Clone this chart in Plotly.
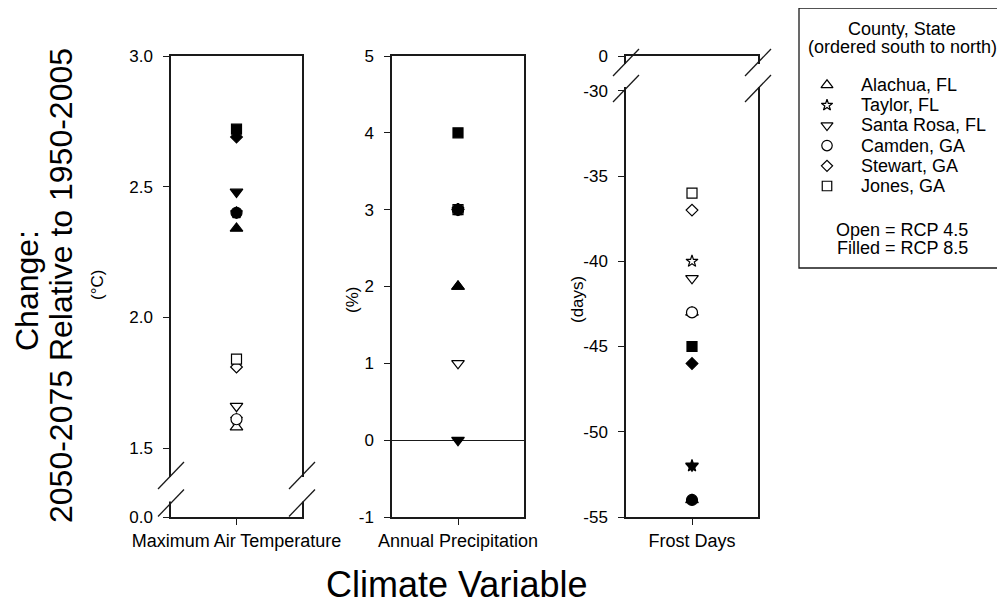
import plotly.graph_objects as go

# ---------------- data ----------------
categories = ["Maximum Air Temperature", "Annual Precipitation", "Frost Days"]
counties = ["Alachua, FL", "Taylor, FL", "Santa Rosa, FL", "Camden, GA", "Stewart, GA", "Jones, GA"]
county_symbols = ["triangle-up", "star", "triangle-down", "circle", "diamond", "square"]

temp_rcp45 = [1.58, 1.61, 1.66, 1.61, 1.81, 1.84]
temp_rcp85 = [2.34, 2.40, 2.48, 2.40, 2.69, 2.72]
precip_rcp45 = [2, 3, 1, 3, 3, 3]
precip_rcp85 = [2, 3, 0, 3, 3, 4]
frost_rcp45 = [-43, -40, -41, -43, -37, -36]
frost_rcp85 = [-54, -52, -52, -54, -46, -45]

temp_tickvals = [1.236, 1.5, 2.0, 2.5, 3.0]
temp_ticktext = ["0.0", "1.5", "2.0", "2.5", "3.0"]
precip_tickvals = [-1, 0, 1, 2, 3, 4, 5]
precip_ticktext = ["-1", "0", "1", "2", "3", "4", "5"]
frost_tickvals = [-55, -50, -45, -40, -35, -30, -27.96]
frost_ticktext = ["-55", "-50", "-45", "-40", "-35", "-30", "0"]

units = ["(°C)", "(%)", "(days)"]
legend_title = ["County, State", "(ordered south to north)"]
legend_note = ["Open = RCP 4.5", "Filled = RCP 8.5"]

# ---------------- styling / layout helpers ----------------
PAGE_W, PAGE_H = 1005, 610
BODY = 8                      # default page body margin
W, H = PAGE_W - BODY, PAGE_H - BODY
FONT = "Liberation Sans, Arial, sans-serif"
INK = "#1a1a1a"
symbol_size = {"triangle-up": 11, "star": 9, "triangle-down": 11,
               "circle": 11, "diamond": 9, "square": 10}


def fx(p):
    """page pixel x -> paper fraction"""
    return (p - BODY) / W


def fy(p):
    """page pixel y -> paper fraction"""
    return 1 - (p - BODY) / H


panel_px = [(171, 302), (392, 524), (626, 758)]
y_top_px, y_bot_px = 56, 517
legend_box = (799, 8, 1003, 268)  # x0, y0, x1, y1 in page pixels

panels = [
    dict(r45=temp_rcp45, r85=temp_rcp85, rng=[1.236, 3.0], tv=temp_tickvals, tt=temp_ticktext, zl=False),
    dict(r45=precip_rcp45, r85=precip_rcp85, rng=[-1, 5], tv=precip_tickvals, tt=precip_ticktext, zl=True),
    dict(r45=frost_rcp45, r85=frost_rcp85, rng=[-55, -27.96], tv=frost_tickvals, tt=frost_ticktext, zl=False),
]


def marker(sym, filled, scale=1.0):
    return dict(symbol=sym, size=symbol_size[sym] * scale,
                color="black" if filled else "white",
                line=dict(color="black", width=1.2))


fig = go.Figure()

for p, (cat, pan) in enumerate(zip(categories, panels)):
    suffix = "" if p == 0 else str(p + 1)
    for scen, vals in (("RCP 4.5", pan["r45"]), ("RCP 8.5", pan["r85"])):
        filled = scen == "RCP 8.5"
        for i, county in enumerate(counties):
            fig.add_trace(go.Scatter(
                x=[cat], y=[vals[i]],
                xaxis="x" + suffix, yaxis="y" + suffix,
                mode="markers", name=f"{county} ({scen})",
                showlegend=False,
                marker=marker(county_symbols[i], filled),
                hovertemplate=f"{county} ({scen})<br>{cat}: %{{y}}<extra></extra>",
            ))

# legend keys (open symbols) drawn in a pixel-scaled helper axis over the legend box
lx0, ly0, lx1, ly1 = legend_box
row0, row_gap, key_x, text_x = 85, 20.2, 827, 859
rows = [row0 + row_gap * i for i in range(len(counties))]
for i, county in enumerate(counties):
    fig.add_trace(go.Scatter(
        x=[key_x], y=[rows[i]], xaxis="x4", yaxis="y4", mode="markers",
        marker=marker(county_symbols[i], False, 0.95), showlegend=False, hoverinfo="skip"))

layout = dict(
    width=W, height=H,
    margin=dict(l=0, r=0, t=0, b=0, autoexpand=False),
    paper_bgcolor="white", plot_bgcolor="white",
    font=dict(family=FONT, size=17, color="black"),
    showlegend=False,
    xaxis4=dict(domain=[fx(lx0), fx(lx1)], range=[lx0, lx1], anchor="y4", visible=False, fixedrange=True),
    yaxis4=dict(domain=[fy(ly1), fy(ly0)], range=[ly1, ly0], anchor="x4", visible=False, fixedrange=True),
)

for p, (cat, pan) in enumerate(zip(categories, panels)):
    suffix = "" if p == 0 else str(p + 1)
    x0, x1 = panel_px[p]
    layout["xaxis" + suffix] = dict(
        domain=[fx(x0), fx(x1)], anchor="y" + suffix,
        type="category", categoryarray=[cat], range=[-0.5, 0.5],
        showline=True, mirror=True, linecolor=INK, linewidth=1.5,
        ticks="outside", ticklen=6, tickwidth=1.2, tickcolor=INK,
        tickfont=dict(family=FONT, size=18, color="black"),
        ticklabelstandoff=1,
        showgrid=False, zeroline=False, fixedrange=True,
    )
    layout["yaxis" + suffix] = dict(
        domain=[fy(y_bot_px), fy(y_top_px)], anchor="x" + suffix,
        range=pan["rng"], tickmode="array", tickvals=pan["tv"], ticktext=pan["tt"],
        showline=True, mirror=True, linecolor=INK, linewidth=1.5,
        ticks="outside", ticklen=6, tickwidth=1.2, tickcolor=INK,
        tickfont=dict(family=FONT, size=17, color="black"),
        ticklabelstandoff=7,
        showgrid=False, zeroline=pan["zl"], zerolinecolor=INK, zerolinewidth=1.3,
        fixedrange=True,
    )

fig.update_layout(**layout)

# ---------------- axis breaks & legend box ----------------
shapes = []


def axis_break(xc, yc1, yc2):
    shapes.append(dict(type="line", xref="paper", yref="paper",
                       x0=fx(xc), x1=fx(xc), y0=fy(yc1 + 1.5), y1=fy(yc2 - 1.5),
                       line=dict(color="white", width=4), layer="above"))
    for yc in (yc1, yc2):
        shapes.append(dict(type="line", xref="paper", yref="paper",
                           x0=fx(xc - 13), y0=fy(yc + 13.5), x1=fx(xc + 13), y1=fy(yc - 13.5),
                           line=dict(color=INK, width=1.3), layer="above"))


for xc in panel_px[0]:
    axis_break(xc, 475.5, 503)
for xc in panel_px[2]:
    axis_break(xc, 62.5, 88.5)

shapes.append(dict(type="rect", xref="paper", yref="paper",
                   x0=fx(lx0), x1=fx(lx1), y0=fy(ly1), y1=fy(ly0),
                   line=dict(color=INK, width=1.3), fillcolor="rgba(0,0,0,0)", layer="above"))
fig.update_layout(shapes=shapes)

# ---------------- annotations ----------------
ann = []
ann.append(dict(text="Change:", x=fx(27), y=fy(291), xref="paper", yref="paper",
                textangle=-90, showarrow=False, xanchor="center", yanchor="middle",
                font=dict(family=FONT, size=32, color="black")))
ann.append(dict(text="2050-2075 Relative to 1950-2005", x=fx(61), y=fy(286), xref="paper", yref="paper",
                textangle=-90, showarrow=False, xanchor="center", yanchor="middle",
                font=dict(family=FONT, size=32, color="black")))
unit_pos = [(97, 285), (352, 300), (577, 300)]
for u, (ux, uy) in zip(units, unit_pos):
    ann.append(dict(text=u, x=fx(ux), y=fy(uy), xref="paper", yref="paper",
                    textangle=-90, showarrow=False, xanchor="center", yanchor="middle",
                    font=dict(family=FONT, size=17, color="black")))
ann.append(dict(text="Climate Variable", x=fx(456), y=fy(584), xref="paper", yref="paper",
                showarrow=False, xanchor="center", yanchor="middle",
                font=dict(family=FONT, size=36, color="black")))

# legend texts
cx = (lx0 + lx1) / 2 + 1
for t, yy in zip(legend_title, (29, 47)):
    ann.append(dict(text=t, x=cx, y=yy, xref="x4", yref="y4", showarrow=False,
                    xanchor="center", yanchor="middle", font=dict(family=FONT, size=18, color="black")))
for i, county in enumerate(counties):
    ann.append(dict(text=county, x=text_x, y=rows[i], xref="x4", yref="y4", showarrow=False,
                    xanchor="left", yanchor="middle", font=dict(family=FONT, size=18, color="black")))
for t, yy in zip(legend_note, (230, 248)):
    ann.append(dict(text=t, x=cx, y=yy, xref="x4", yref="y4", showarrow=False,
                    xanchor="center", yanchor="middle", font=dict(family=FONT, size=18, color="black")))
fig.update_layout(annotations=ann)

fig.write_html("out.html")
